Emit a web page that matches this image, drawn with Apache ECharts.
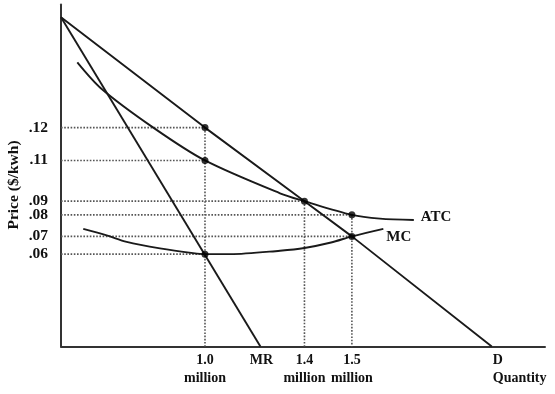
<!DOCTYPE html>
<html><head><meta charset="utf-8">
<script src="https://cdn.jsdelivr.net/npm/echarts@6/dist/echarts.min.js"></script>
<style>html,body{margin:0;padding:0;background:#fff}#c{width:555px;height:394px}</style>
</head><body><div id="c"></div>
<script>
// Schematic units: quantity axis 0..100, price axis 0..100 (labels placed at their drawn positions)
const quantityTicks = [29.75, 41.4, 50.3, 60.1, 95.0];
const quantityTickLabels = ['1.0\nmillion', 'MR', '1.4\nmillion', '1.5\nmillion', '{q|D}\n{q|Quantity}'];
const priceTicks = [64.0, 54.4, 42.5, 38.5, 32.2, 27.0];
const priceTickLabels = ['.12', '.11', '.09', '.08', '.07', '.06'];

const demandQ = [0, 29.75, 50.3, 60.1, 89.0];
const demandP = [96.3, 64.0, 42.5, 32.2, 0];
const mrQ = [0, 41.2];
const mrP = [96.3, 0];
const atcQ = [3.37, 8.41, 19.07, 29.75, 45.25, 50.3, 60.1, 65.9, 72.9];
const atcP = [83.1, 75.3, 64.0, 54.4, 44.8, 42.5, 38.5, 37.4, 37.0];
const mcQ = [4.6, 9.44, 13.57, 20.45, 27.3, 29.75, 35.0, 45.25, 50.3, 55.8, 60.1, 66.6];
const mcP = [34.4, 32.5, 30.6, 28.7, 27.3, 27.0, 27.0, 28.0, 28.8, 30.4, 32.2, 34.4];

const dotQ = [29.75, 29.75, 29.75, 50.3, 60.1, 60.1];
const dotP = [64.0, 54.4, 27.0, 42.5, 38.5, 32.2];

const zip = (a, b) => a.map((v, i) => [v, b[i]]);
const font = 'Liberation Serif, Times New Roman, serif';
const ink = '#1a1a1a';

// guide lines (horizontal to the price axis, vertical down to the quantity axis)
const guides = [];
dotQ.forEach((q, i) => { guides.push([0, dotP[i]], [q, dotP[i]], [null, null]); });
[...new Set(dotQ)].forEach(q => {
  const top = Math.max(...dotQ.map((v, i) => v === q ? dotP[i] : -1));
  guides.push([q, top], [q, 0], [null, null]);
});

const chart = echarts.init(document.getElementById('c'), null, {renderer: 'canvas'});
const lineBase = {type: 'line', symbol: 'none', silent: true, animation: false,
  lineStyle: {color: ink, width: 1.9}, z: 3};
chart.setOption({
  animation: false,
  grid: {left: 61, right: 10, top: 4.5, bottom: 47.5},
  xAxis: {
    type: 'value', min: 0, max: 100,
    axisLine: {show: true, onZero: false, lineStyle: {color: '#333', width: 2}},
    axisTick: {show: false}, splitLine: {show: false},
    axisLabel: {
      customValues: quantityTicks, margin: 5,
      formatter: v => { const i = quantityTicks.findIndex(t => Math.abs(t - v) < 1e-6); return i >= 0 ? quantityTickLabels[i] : ''; },
      color: '#111', fontFamily: font, fontWeight: 'bold', fontSize: 14, lineHeight: 18,
      rich: {q: {width: 56, align: 'left', color: '#111', fontFamily: font, fontWeight: 'bold', fontSize: 14, lineHeight: 18}}
    }
  },
  yAxis: {
    type: 'value', min: 0, max: 100,
    axisLine: {show: true, onZero: false, lineStyle: {color: '#333', width: 2}},
    axisTick: {show: false}, splitLine: {show: false},
    axisLabel: {
      customValues: priceTicks, margin: 13,
      formatter: v => { const i = priceTicks.findIndex(t => Math.abs(t - v) < 1e-6); return i >= 0 ? priceTickLabels[i] : ''; },
      color: '#111', fontFamily: font, fontWeight: 'bold', fontSize: 15.5
    }
  },
  graphic: [{
    type: 'text', x: 14, y: 185, rotation: Math.PI / 2,
    style: {text: 'Price ($/kwh)', fill: '#111', font: 'bold 15.5px ' + font, align: 'center', verticalAlign: 'middle'}
  }],
  series: [
    {type: 'line', symbol: 'none', silent: true, data: guides, connectNulls: false,
      lineStyle: {color: '#555', width: 1.6, type: [1.6, 1.6]}, z: 1},
    Object.assign({}, lineBase, {name: 'D', data: zip(demandQ, demandP)}),
    Object.assign({}, lineBase, {name: 'MR', data: zip(mrQ, mrP)}),
    Object.assign({}, lineBase, {name: 'ATC', data: zip(atcQ, atcP), smooth: 0.3,
      endLabel: {show: true, formatter: 'ATC', distance: 7, offset: [0, -3],
        color: '#111', fontFamily: font, fontWeight: 'bold', fontSize: 15}}),
    Object.assign({}, lineBase, {name: 'MC', data: zip(mcQ, mcP), smooth: 0.3,
      endLabel: {show: true, formatter: 'MC', distance: 3, offset: [0, 8],
        color: '#111', fontFamily: font, fontWeight: 'bold', fontSize: 15}}),
    {type: 'scatter', data: zip(dotQ, dotP), symbolSize: 7, itemStyle: {color: '#000'}, z: 5, silent: true}
  ]
});
</script></body></html>
